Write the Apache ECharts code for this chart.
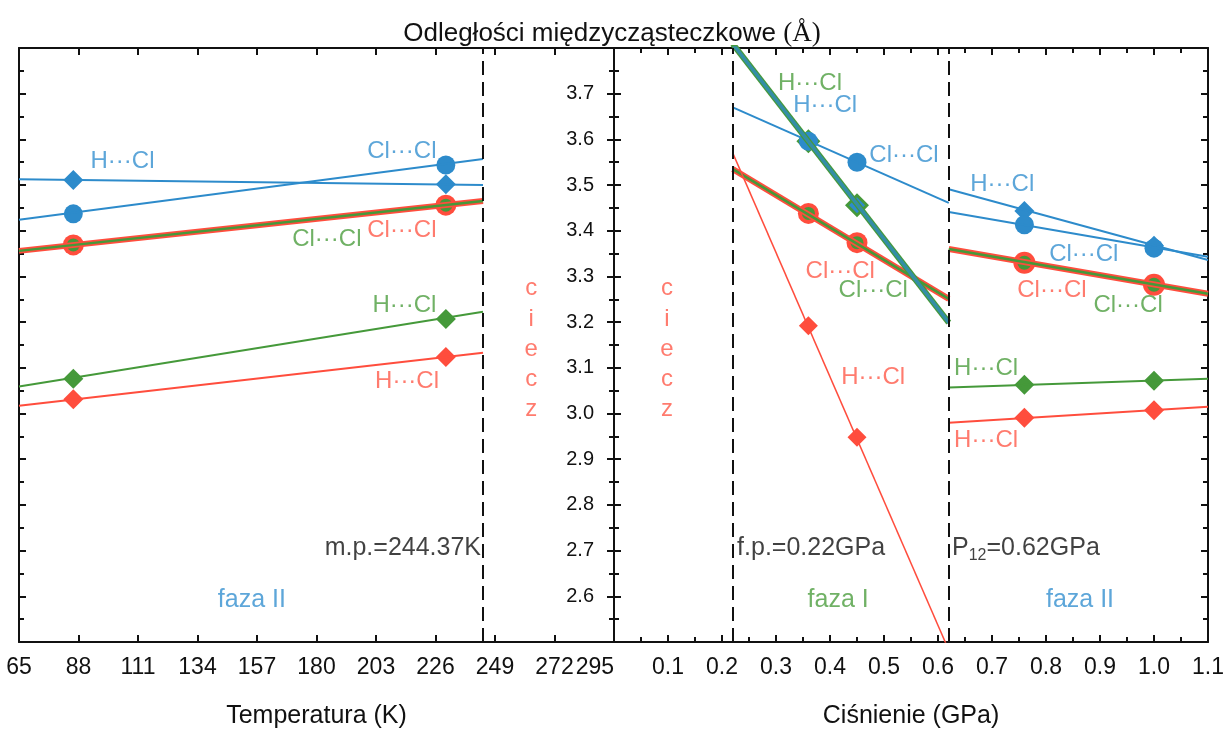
<!DOCTYPE html>
<html>
<head>
<meta charset="utf-8">
<title>Odległości międzycząsteczkowe</title>
<script src="https://cdn.jsdelivr.net/npm/echarts@6/dist/echarts.min.js"></script>
<style>
html, body { margin: 0; padding: 0; background: #fff; }
#chart { width: 1224px; height: 729px; }
</style>
</head>
<body>
<div id="chart"></div>
<script>
// granice faz
var meltT = 244.37;   // m.p. (K)
var freezeP = 0.22;   // f.p. (GPa)
var transP = 0.62;    // P12 (GPa)

// temperatura, faza II: punkty pomiarowe i końce prostych
var tPts = [86, 230];
var tFit = [65, 244.37];
var tBlueHCl = [3.511, 3.502];    var tBlueHClFit = [3.513, 3.500];
var tBlueClCl = [3.437, 3.544];   var tBlueClClFit = [3.424, 3.557];
var tRedClCl = [3.369, 3.456];    var tRedClClFit = [3.356, 3.465];
var tGreenHCl = [3.076, 3.207];   var tGreenHClFit = [3.059, 3.223];
var tRedHCl = [3.031, 3.124];     var tRedHClFit = [3.017, 3.133];

// ciśnienie, faza I
var p1Pts = [0.36, 0.45];
var p1Fit = [0.22, 0.62];
var p1BlueClCl = [3.596, 3.550];  var p1BlueClClFit = [3.670, 3.461];
var p1HCl = [3.596, 3.456];       var p1HClFit = [3.809, 3.199];
var p1RedClCl = [3.438, 3.374];   var p1RedClClFit = [3.535, 3.251];
var p1RedHCl = [3.192, 2.948];    var p1RedHClFit = [3.570, 2.482];

// ciśnienie, faza II
var p2Pts = [0.76, 1.0];
var p2Fit = [0.62, 1.1];
var p2BlueHCl = [3.443, 3.367];   var p2BlueHClFit = [3.491, 3.336];
var p2BlueClCl = [3.413, 3.362];  var p2BlueClClFit = [3.441, 3.343];
var p2RedClCl = [3.330, 3.282];   var p2RedClClFit = [3.360, 3.262];
var p2GreenHCl = [3.063, 3.072];  var p2GreenHClFit = [3.057, 3.076];
var p2RedHCl = [2.991, 3.007];    var p2RedHClFit = [2.980, 3.015];

var BLUE = '#2d8bcb';
var GREEN = '#45993a';
var RED = '#ff4d3d';
var TXT_BLUE = '#3590d0';
var TXT_GREEN = '#4c9e3e';
var TXT_RED = '#ff5a4a';
var FONT = '"Liberation Sans", Arial, sans-serif';

// podpisy: [x, y, tekst, kolor, wyrównanie, rozmiar]
var leftNotes = [
	[105, 3.552, 'H···Cl', TXT_BLUE],
	[213, 3.574, 'Cl···Cl', TXT_BLUE],
	[184, 3.382, 'Cl···Cl', TXT_GREEN],
	[213, 3.400, 'Cl···Cl', TXT_RED],
	[214, 3.236, 'H···Cl', TXT_GREEN],
	[215, 3.070, 'H···Cl', TXT_RED],
	[243.6, 2.705, 'm.p.=244.37K', '#111', 'right', 25],
	[155, 2.592, 'faza II', TXT_BLUE, 'center', 25],
	[263, 3.273, 'c', TXT_RED, 'center', 24],
	[263, 3.207, 'i', TXT_RED, 'center', 24],
	[263, 3.140, 'e', TXT_RED, 'center', 24],
	[263, 3.074, 'c', TXT_RED, 'center', 24],
	[263, 3.009, 'z', TXT_RED, 'center', 24]
];
var rightNotes = [
	[0.363, 3.723, 'H···Cl', TXT_GREEN],
	[0.391, 3.675, 'H···Cl', TXT_BLUE],
	[0.537, 3.566, 'Cl···Cl', TXT_BLUE],
	[0.419, 3.312, 'Cl···Cl', TXT_RED],
	[0.480, 3.269, 'Cl···Cl', TXT_GREEN],
	[0.480, 3.079, 'H···Cl', TXT_RED],
	[0.719, 3.502, 'H···Cl', TXT_BLUE],
	[0.870, 3.349, 'Cl···Cl', TXT_BLUE],
	[0.811, 3.269, 'Cl···Cl', TXT_RED],
	[0.952, 3.236, 'Cl···Cl', TXT_GREEN],
	[0.689, 3.098, 'H···Cl', TXT_GREEN],
	[0.689, 2.941, 'H···Cl', TXT_RED],
	[0.228, 2.705, 'f.p.=0.22GPa', '#111', 'left', 25],
	[0.626, 2.705, 'P12=0.62GPa', '#111', 'left', 25],
	[0.415, 2.592, 'faza I', TXT_GREEN, 'center', 25],
	[0.863, 2.592, 'faza II', TXT_BLUE, 'center', 25],
	[0.098, 3.273, 'c', TXT_RED, 'center', 24],
	[0.098, 3.207, 'i', TXT_RED, 'center', 24],
	[0.098, 3.140, 'e', TXT_RED, 'center', 24],
	[0.098, 3.074, 'c', TXT_RED, 'center', 24],
	[0.098, 3.009, 'z', TXT_RED, 'center', 24]
];

function pairs(xs, ys) {
	return xs.map(function (x, i) { return [x, ys[i]]; });
}

function lineS(g, xs, ys, color, width, opacity) {
	return {
		type: 'line', xAxisIndex: g * 2, yAxisIndex: g * 2,
		data: pairs(xs, ys), symbol: 'none', silent: true,
		lineStyle: { color: color, width: width, opacity: opacity || 1 }
	};
}

function dotS(g, xs, ys, shape, size, color) {
	return {
		type: 'scatter', xAxisIndex: g * 2, yAxisIndex: g * 2,
		data: pairs(xs, ys), symbol: shape, symbolSize: size, silent: true,
		itemStyle: { color: color, opacity: 1 }
	};
}

function notesS(g, notes) {
	return {
		type: 'scatter', xAxisIndex: g * 2, yAxisIndex: g * 2,
		symbolSize: 1, silent: true, z: 10,
		itemStyle: { color: 'rgba(0,0,0,0)' },
		label: { show: true, position: 'inside', formatter: '{b}', fontFamily: FONT },
		data: notes.map(function (a) {
			var lab = { color: a[3], align: a[4] || 'center', fontSize: a[5] || 24 };
			if (a[2] === 'P12=0.62GPa') {
				lab.formatter = '{a|P}{s|12}{a|=0.62GPa}';
				lab.rich = {
					a: { fontFamily: FONT, fontSize: 25, color: '#111' },
					s: { fontFamily: FONT, fontSize: 16, color: '#111', padding: [14, 0, 0, 0] }
				};
			}
			return { name: a[2], value: [a[0], a[1]], label: lab };
		})
	};
}

function dashed(values) {
	return {
		silent: true, symbol: 'none',
		label: { show: false },
		lineStyle: { color: '#111', width: 2, type: [14, 7] },
		data: values.map(function (v) { return { xAxis: v }; })
	};
}

var series = [];
// lewa część: temperatura
var s0 = lineS(0, tFit, tRedClClFit, RED, 6);
s0.markLine = dashed([meltT]);
series.push(s0);
series.push(lineS(0, tFit, tRedClClFit, GREEN, 2.5));
series.push(lineS(0, tFit, tBlueHClFit, BLUE, 2));
series.push(lineS(0, tFit, tBlueClClFit, BLUE, 2));
series.push(lineS(0, tFit, tGreenHClFit, GREEN, 2));
series.push(lineS(0, tFit, tRedHClFit, RED, 2));
series.push(dotS(0, tPts, tBlueHCl, 'diamond', 20, BLUE));
series.push(dotS(0, tPts, tBlueClCl, 'circle', 19, BLUE));
series.push(dotS(0, tPts, tRedClCl, 'circle', 21, RED));
series.push(dotS(0, tPts, tRedClCl, 'circle', 13, GREEN));
series.push(dotS(0, tPts, tGreenHCl, 'diamond', 20, GREEN));
series.push(dotS(0, tPts, tRedHCl, 'diamond', 20, RED));
series.push(notesS(0, leftNotes));

// prawa część: ciśnienie, faza I
var s1 = lineS(1, p1Fit, p1RedClClFit, RED, 6);
s1.markLine = dashed([freezeP, transP]);
series.push(s1);
series.push(lineS(1, p1Fit, p1RedClClFit, GREEN, 2.5));
series.push(lineS(1, p1Fit, p1RedHClFit, RED, 1.5));
series.push(lineS(1, p1Fit, p1BlueClClFit, BLUE, 2));
series.push(lineS(1, p1Fit, p1HClFit, GREEN, 6));
series.push(lineS(1, p1Fit, p1HClFit, BLUE, 3.5, 0.75));
series.push(dotS(1, p1Pts, p1RedClCl, 'circle', 21, RED));
series.push(dotS(1, p1Pts, p1RedClCl, 'circle', 13, GREEN));
series.push(dotS(1, p1Pts, p1RedHCl, 'diamond', 19, RED));
series.push(dotS(1, p1Pts, p1HCl, 'diamond', 24, GREEN));
series.push(dotS(1, p1Pts, p1HCl, 'diamond', 16, BLUE));
series.push(dotS(1, p1Pts, p1BlueClCl, 'circle', 19, BLUE));

// faza II
series.push(lineS(1, p2Fit, p2RedClClFit, RED, 6));
series.push(lineS(1, p2Fit, p2RedClClFit, GREEN, 2.5));
series.push(lineS(1, p2Fit, p2BlueHClFit, BLUE, 2));
series.push(lineS(1, p2Fit, p2BlueClClFit, BLUE, 2));
series.push(lineS(1, p2Fit, p2GreenHClFit, GREEN, 2));
series.push(lineS(1, p2Fit, p2RedHClFit, RED, 2));
series.push(dotS(1, p2Pts, p2BlueHCl, 'diamond', 20, BLUE));
series.push(dotS(1, p2Pts, p2BlueClCl, 'circle', 19, BLUE));
series.push(dotS(1, p2Pts, p2RedClCl, 'circle', 22, RED));
series.push(dotS(1, p2Pts, p2RedClCl, 'circle', 14, GREEN));
series.push(dotS(1, p2Pts, p2GreenHCl, 'diamond', 20, GREEN));
series.push(dotS(1, p2Pts, p2RedHCl, 'diamond', 20, RED));
series.push(notesS(1, rightNotes));

var axisLine = { onZero: false, lineStyle: { color: '#111', width: 2 } };
var tick = { inside: true, length: 7, lineStyle: { color: '#111', width: 2 } };
var minor = { show: true, splitNumber: 2, length: 5, lineStyle: { color: '#111', width: 2 } };

function xAx(g, pos, min, max, step, withMinor, labels, name) {
	return {
		type: 'value', gridIndex: g, position: pos, min: min, max: max, interval: step,
		axisLine: axisLine, axisTick: tick,
		minorTick: withMinor ? minor : { show: false },
		splitLine: { show: false },
		axisLabel: labels || { show: false },
		name: name || '', nameLocation: 'middle', nameGap: 62,
		nameTextStyle: { fontFamily: FONT, fontSize: 25, color: '#111' }
	};
}

function yAx(g, pos, labels) {
	return {
		type: 'value', gridIndex: g, position: pos, min: 2.5, max: 3.8, interval: 0.1,
		axisLine: axisLine, axisTick: tick, minorTick: minor,
		splitLine: { show: false },
		axisLabel: labels || { show: false }
	};
}

var option = {
	backgroundColor: '#fff',
	animation: false,
	title: {
		text: '{a|Odległości międzycząsteczkowe }{b|(Å)}',
		left: 'center', top: 15,
		textStyle: {
			fontWeight: 'normal',
			rich: {
				a: { fontFamily: FONT, fontSize: 26, fontWeight: 'normal', color: '#111' },
				b: { fontFamily: '"Liberation Serif", serif', fontSize: 27, fontWeight: 'normal', color: '#111' }
			}
		}
	},
	grid: [
		{ left: 19, top: 48, width: 595, height: 594, containLabel: false, outerBoundsMode: 'none' },
		{ left: 614, top: 48, width: 594, height: 594, containLabel: false, outerBoundsMode: 'none' }
	],
	xAxis: [
		xAx(0, 'bottom', 65, 295, 23, false, {
			fontFamily: FONT, fontSize: 23, color: '#111', margin: 14,
			alignMaxLabel: 'right', showMaxLabel: true, hideOverlap: false
		}, 'Temperatura (K)'),
		xAx(0, 'top', 65, 295, 23, false),
		xAx(1, 'bottom', 0, 1.1, 0.1, true, {
			fontFamily: FONT, fontSize: 23, color: '#111', margin: 14, hideOverlap: false,
			formatter: function (v) { return v < 0.05 ? '' : v.toFixed(1); }
		}, 'Ciśnienie (GPa)'),
		xAx(1, 'top', 0, 1.1, 0.1, true)
	],
	yAxis: [
		yAx(0, 'left'),
		yAx(0, 'right', {
			inside: true, margin: 20, fontFamily: FONT, fontSize: 20, color: '#111',
			formatter: function (v) { return (v < 2.55 || v > 3.75) ? '' : v.toFixed(1); }
		}),
		yAx(1, 'left'),
		yAx(1, 'right')
	],
	series: series
};

var chart = echarts.init(document.getElementById('chart'));
chart.setOption(option);
</script>
</body>
</html>
